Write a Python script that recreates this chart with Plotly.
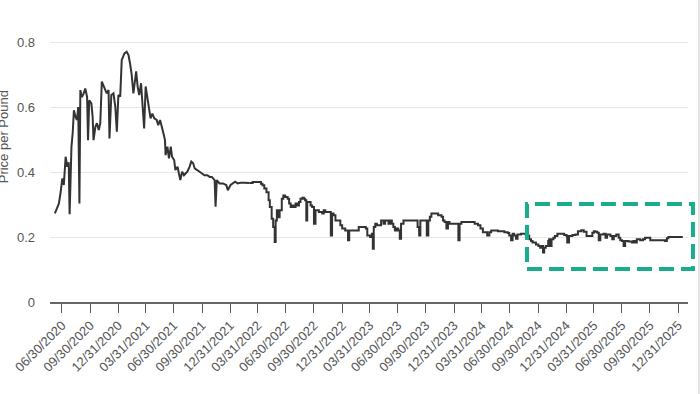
import plotly.graph_objects as go

dates = [
    "2020-06-07", "2020-06-14", "2020-06-20", "2020-06-26", "2020-07-01", "2020-07-06", "2020-07-12",
    "2020-07-17", "2020-07-22", "2020-07-25", "2020-07-28", "2020-07-31", "2020-08-04", "2020-08-08",
    "2020-08-13", "2020-08-18", "2020-08-22", "2020-08-26", "2020-08-29", "2020-09-03", "2020-09-09",
    "2020-09-14", "2020-09-20", "2020-09-23", "2020-09-27", "2020-10-04", "2020-10-08", "2020-10-11",
    "2020-10-17", "2020-10-22", "2020-10-28", "2020-11-02", "2020-11-07", "2020-11-13", "2020-11-18",
    "2020-11-23", "2020-11-29", "2020-12-02", "2020-12-08", "2020-12-15", "2020-12-21", "2020-12-26",
    "2020-12-31", "2021-01-06", "2021-01-11", "2021-01-20", "2021-01-27", "2021-02-02", "2021-02-07",
    "2021-02-12", "2021-02-18", "2021-02-23", "2021-02-27", "2021-03-04", "2021-03-09", "2021-03-15",
    "2021-03-20", "2021-03-25", "2021-03-30", "2021-04-04", "2021-04-10", "2021-04-15", "2021-04-21",
    "2021-04-27", "2021-05-05", "2021-05-10", "2021-05-16", "2021-05-21", "2021-05-27", "2021-06-01",
    "2021-06-03", "2021-06-09", "2021-06-14", "2021-06-20", "2021-06-24", "2021-07-01", "2021-07-05",
    "2021-07-12", "2021-07-16", "2021-07-21", "2021-07-27", "2021-08-02", "2021-08-08", "2021-08-13",
    "2021-08-20", "2021-08-26", "2021-09-01", "2021-09-06", "2021-09-14", "2021-09-22", "2021-09-30",
    "2021-10-08", "2021-10-17", "2021-10-25", "2021-11-01", "2021-11-10", "2021-11-13", "2021-11-17",
    "2021-11-26", "2021-12-07", "2021-12-18", "2021-12-23", "2022-01-01", "2022-01-08", "2022-01-16",
    "2022-01-24", "2022-02-02", "2022-02-15", "2022-02-26",
    "2022-03-03", "2022-03-14", "2022-03-25", "2022-04-05", "2022-04-10", "2022-04-15", "2022-04-21",
    "2022-04-28", "2022-05-05", "2022-05-09", "2022-05-15", "2022-05-20", "2022-05-25", "2022-05-28",
    "2022-06-01", "2022-06-05", "2022-06-10", "2022-06-17", "2022-06-22", "2022-06-28", "2022-07-06",
    "2022-07-11", "2022-07-16", "2022-07-22", "2022-07-27", "2022-08-01", "2022-08-07", "2022-08-12",
    "2022-08-17", "2022-08-23", "2022-08-28", "2022-09-01", "2022-09-05", "2022-09-08", "2022-09-14",
    "2022-09-19", "2022-09-24", "2022-09-30", "2022-10-05", "2022-10-11", "2022-10-16", "2022-10-27",
    "2022-11-01", "2022-11-06", "2022-11-19", "2022-11-24", "2022-11-28", "2022-12-03", "2022-12-09",
    "2022-12-20", "2022-12-25", "2022-12-31", "2023-01-10", "2023-01-19", "2023-01-23", "2023-02-12",
    "2023-02-23", "2023-03-11", "2023-03-18", "2023-03-23", "2023-04-01", "2023-04-07", "2023-04-10",
    "2023-04-13", "2023-04-18", "2023-04-23", "2023-04-29", "2023-05-07", "2023-05-15", "2023-05-20",
    "2023-05-31", "2023-06-05", "2023-06-11", "2023-06-16", "2023-06-21", "2023-06-27", "2023-07-02",
    "2023-07-07", "2023-07-11", "2023-07-19", "2023-08-04", "2023-08-25", "2023-09-03", "2023-09-08",
    "2023-09-12", "2023-09-29", "2023-10-03", "2023-10-08", "2023-10-13", "2023-10-18", "2023-11-09",
    "2023-11-20", "2023-11-25", "2023-11-30", "2023-12-06", "2023-12-11", "2023-12-16", "2024-01-11",
    "2024-01-14", "2024-01-18", "2024-01-24", "2024-02-25", "2024-03-07", "2024-03-18", "2024-03-26",
    "2024-04-03", "2024-04-14", "2024-04-17", "2024-04-24", "2024-04-30", "2024-05-22", "2024-06-12",
    "2024-06-23", "2024-06-28", "2024-07-04", "2024-07-09", "2024-07-14", "2024-07-20", "2024-07-25",
    "2024-08-05", "2024-08-16", "2024-08-21",
    "2024-09-01", "2024-09-07", "2024-09-12", "2024-09-23", "2024-10-01", "2024-10-07", "2024-10-12",
    "2024-10-16", "2024-10-20", "2024-10-25", "2024-11-02", "2024-11-05", "2024-11-08", "2024-11-13",
    "2024-11-19", "2024-11-24", "2024-12-02", "2024-12-24", "2025-01-01", "2025-01-03", "2025-01-09",
    "2025-01-20", "2025-01-30", "2025-02-07", "2025-02-18", "2025-02-26", "2025-03-07", "2025-03-15",
    "2025-03-26", "2025-03-31", "2025-04-05", "2025-04-11", "2025-04-16", "2025-04-21", "2025-05-02",
    "2025-05-08", "2025-05-13", "2025-05-24", "2025-05-30", "2025-06-04", "2025-06-12", "2025-06-20",
    "2025-06-25", "2025-07-01", "2025-07-06", "2025-07-11", "2025-07-22", "2025-08-02", "2025-08-07",
    "2025-08-13", "2025-08-18", "2025-08-29", "2025-09-07", "2025-09-14", "2025-09-25", "2025-10-01",
    "2025-11-18", "2025-11-24", "2025-11-29", "2026-01-15",
]

prices = [
    0.273, 0.290, 0.303, 0.340, 0.380, 0.360, 0.447,
    0.416, 0.430, 0.270, 0.440, 0.478, 0.520, 0.590,
    0.570, 0.560, 0.600, 0.303, 0.652, 0.631, 0.642,
    0.657, 0.631, 0.498, 0.621, 0.611, 0.570, 0.498,
    0.539, 0.550, 0.529, 0.550, 0.678, 0.662, 0.652,
    0.642, 0.652, 0.503, 0.637, 0.642, 0.601, 0.524,
    0.637, 0.632, 0.745, 0.765, 0.770, 0.760, 0.734,
    0.703, 0.642, 0.683, 0.710, 0.662, 0.637, 0.673,
    0.600, 0.534, 0.663, 0.627, 0.585, 0.565, 0.580,
    0.565, 0.560, 0.544, 0.560, 0.544, 0.519, 0.498,
    0.452, 0.478, 0.442, 0.478, 0.447, 0.437, 0.406,
    0.416, 0.401, 0.375, 0.401, 0.390, 0.396, 0.401,
    0.416, 0.432, 0.427, 0.411, 0.406, 0.401, 0.396,
    0.390, 0.390, 0.385, 0.385, 0.375, 0.293, 0.375,
    0.365, 0.365, 0.360, 0.344, 0.360, 0.365, 0.370,
    0.365, 0.367, 0.367, 0.365,
    0.366, 0.369, 0.369, 0.369, 0.364, 0.359, 0.349,
    0.338, 0.313, 0.292, 0.256, 0.231, 0.185, 0.251,
    0.282, 0.261, 0.282, 0.318, 0.328, 0.323, 0.318,
    0.303, 0.292, 0.297, 0.292, 0.303, 0.297, 0.308,
    0.318, 0.321, 0.318, 0.313, 0.251, 0.308, 0.308,
    0.297, 0.292, 0.241, 0.282, 0.282, 0.277, 0.272,
    0.282, 0.277, 0.277, 0.205, 0.272, 0.267, 0.251,
    0.251, 0.236, 0.226, 0.220, 0.190, 0.220, 0.220,
    0.231, 0.231, 0.226, 0.205, 0.200, 0.210, 0.164,
    0.231, 0.241, 0.236, 0.236, 0.251, 0.241, 0.251,
    0.241, 0.251, 0.241, 0.231, 0.220, 0.226, 0.220,
    0.195, 0.241, 0.251, 0.251, 0.251, 0.231, 0.205,
    0.251, 0.251, 0.205, 0.251, 0.262, 0.272, 0.267,
    0.262, 0.251, 0.246, 0.226, 0.246, 0.241, 0.241,
    0.190, 0.241, 0.246, 0.246, 0.241, 0.236, 0.226,
    0.215, 0.215, 0.205, 0.215, 0.220, 0.218, 0.215,
    0.212, 0.205, 0.190, 0.210, 0.205, 0.195, 0.208,
    0.210, 0.210, 0.205,
    0.193, 0.188, 0.183, 0.177, 0.172, 0.167, 0.172,
    0.152, 0.167, 0.172, 0.188, 0.193, 0.172, 0.193,
    0.198, 0.203, 0.210, 0.206, 0.203, 0.183, 0.203,
    0.206, 0.208, 0.218, 0.221, 0.216, 0.203, 0.203,
    0.213, 0.218, 0.216, 0.213, 0.190, 0.208, 0.210,
    0.198, 0.208, 0.203, 0.193, 0.203, 0.208, 0.198,
    0.190, 0.188, 0.172, 0.188, 0.186, 0.183, 0.188,
    0.183, 0.193, 0.190, 0.193, 0.198, 0.198, 0.190,
    0.188, 0.196, 0.200, 0.200,
]

# the series switches to step-like pricing from this date on
step_start = "2022-03-03"

tick_dates = [
    "2020-06-30", "2020-09-30", "2020-12-31", "2021-03-31", "2021-06-30", "2021-09-30",
    "2021-12-31", "2022-03-31", "2022-06-30", "2022-09-30", "2022-12-31", "2023-03-31",
    "2023-06-30", "2023-09-30", "2023-12-31", "2024-03-31", "2024-06-30", "2024-09-30",
    "2024-12-31", "2025-03-31", "2025-06-30", "2025-09-30", "2025-12-31",
]
tick_labels = [
    "06/30/2020", "09/30/2020", "12/31/2020", "03/31/2021", "06/30/2021", "09/30/2021",
    "12/31/2021", "03/31/2022", "06/30/2022", "09/30/2022", "12/31/2022", "03/31/2023",
    "06/30/2023", "09/30/2023", "12/31/2023", "03/31/2024", "06/30/2024", "09/30/2024",
    "12/31/2024", "03/31/2025", "06/30/2025", "09/30/2025", "12/31/2025",
]
y_ticks = [0, 0.2, 0.4, 0.6, 0.8]
y_labels = ["0", "0.2", "0.4", "0.6", "0.8"]
y_title = "Price per Pound"

FONT = "Liberation Sans, Arial, sans-serif"
TXT = "#555555"
LINE = "#333333"

k = dates.index(step_start)

fig = go.Figure()
fig.add_trace(go.Scatter(
    x=dates[:k + 1], y=prices[:k + 1], mode="lines",
    line=dict(color=LINE, width=2),
    hoverinfo="skip", showlegend=False,
))
fig.add_trace(go.Scatter(
    x=dates[k:], y=prices[k:], mode="lines",
    line=dict(color=LINE, width=2, shape="hv"),
    hoverinfo="skip", showlegend=False,
))

# plot area geometry (px): left 46, right 688, top 29, bottom 302
L, R, T, B = 46, 688, 29, 302
W, H = R - L, B - T

def px_x(p):
    return (p - L) / W

def px_y(p):
    return (B - p) / H

fig.update_layout(
    width=700, height=394,
    margin=dict(l=L, r=700 - R, t=T, b=394 - B),
    paper_bgcolor="white", plot_bgcolor="white",
    font=dict(family=FONT, size=13, color=TXT),
    xaxis=dict(
        range=["2020-05-22", "2026-02-01"],
        tickvals=tick_dates, ticktext=tick_labels,
        tickangle=-45, tickfont=dict(size=13, color=TXT),
        ticks="outside", ticklen=9, tickwidth=1.2, tickcolor="#555555",
        showline=True, linecolor="#666666", linewidth=1.5,
        showgrid=False, zeroline=False,
    ),
    yaxis=dict(
        range=[0, 0.84],
        tickvals=y_ticks, ticktext=y_labels,
        tickfont=dict(size=13, color=TXT),
        showgrid=True, gridcolor="#e6e6e6", gridwidth=1,
        zeroline=False, showline=False,
        ticklabelstandoff=14,
    ),
    annotations=[dict(
        text=y_title, textangle=-90, showarrow=False,
        xref="paper", yref="paper", x=px_x(-1), y=px_y(137),
        xanchor="center", yanchor="middle",
        font=dict(size=13, color=TXT),
    )],
    shapes=[
        dict(type="rect", xref="paper", yref="paper",
             x0=px_x(526), x1=px_x(693), y0=px_y(269), y1=px_y(204),
             line=dict(color="#19ad8e", width=4, dash="15px,7px"),
             fillcolor="rgba(0,0,0,0)"),
        dict(type="line", xref="paper", yref="paper",
             x0=px_x(699), x1=px_x(699), y0=px_y(394), y1=px_y(0),
             line=dict(color="#e2e2e2", width=2)),
    ],
)

fig.write_html(
    "out.html",
    config={"displayModeBar": False},
    post_script="document.body.style.margin='0';document.body.style.overflow='hidden';",
)
